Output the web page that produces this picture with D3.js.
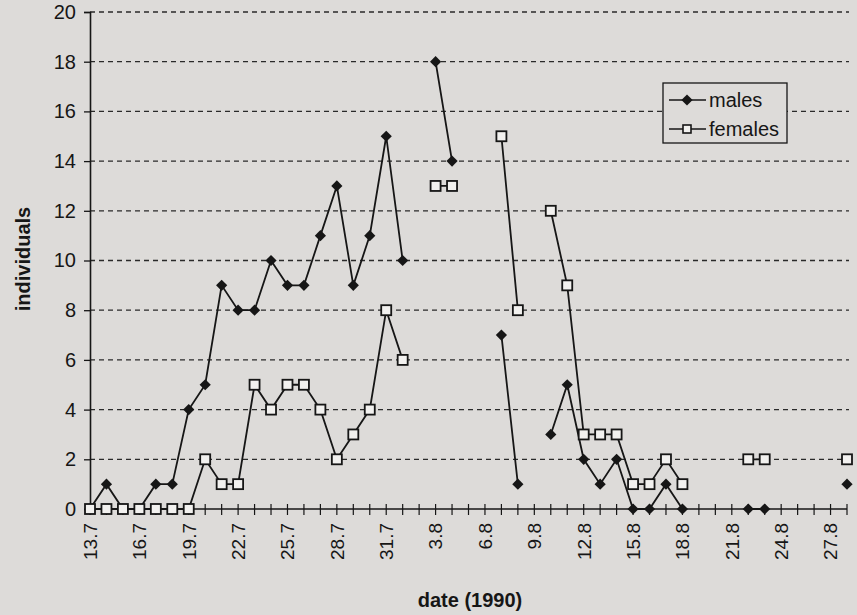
<!DOCTYPE html>
<html>
<head>
<meta charset="utf-8">
<script src="https://cdn.jsdelivr.net/npm/d3@7"></script>
<style>
  html, body { margin: 0; padding: 0; background: #dddbd9; }
  svg { display: block; font-family: "Liberation Sans", Arial, Helvetica, sans-serif; }
</style>
</head>
<body>
<svg id="chart" width="857" height="615"></svg>
<script>
// Daily counts, 13 July – 28 August 1990 (null = no survey that day)
const dates = [
  "13.7","14.7","15.7","16.7","17.7","18.7","19.7","20.7","21.7","22.7",
  "23.7","24.7","25.7","26.7","27.7","28.7","29.7","30.7","31.7",
  "1.8","2.8","3.8","4.8","5.8","6.8","7.8","8.8","9.8","10.8",
  "11.8","12.8","13.8","14.8","15.8","16.8","17.8","18.8","19.8","20.8",
  "21.8","22.8","23.8","24.8","25.8","26.8","27.8","28.8"
];
const males = [
  0,1,0,0,1,1,4,5,9,8,
  8,10,9,9,11,13,9,11,15,
  10,null,18,14,null,null,7,1,null,3,
  5,2,1,2,0,0,1,0,null,null,
  null,0,0,null,null,null,null,1
];
const females = [
  0,0,0,0,0,0,0,2,1,1,
  5,4,5,5,4,2,3,4,8,
  6,null,13,13,null,null,15,8,null,12,
  9,3,3,3,1,1,2,1,null,null,
  null,2,2,null,null,null,null,2
];
const xTickLabels = ["13.7","16.7","19.7","22.7","25.7","28.7","31.7","3.8","6.8",
                     "9.8","12.8","15.8","18.8","21.8","24.8","27.8"];
const yTicks = [0,2,4,6,8,10,12,14,16,18,20];

const ink = "#161616";
const bg = "#dddbd9";
const svg = d3.select("#chart");

const x = d3.scalePoint().domain(dates).range([90, 847]);
const y = d3.scaleLinear().domain([0, 20]).range([509, 12]);

// horizontal dashed gridlines
svg.append("g").selectAll("line")
  .data(yTicks.filter(v => v > 0))
  .join("line")
  .attr("x1", 90).attr("x2", 849)
  .attr("y1", d => y(d)).attr("y2", d => y(d))
  .attr("stroke", "#2a2a2a").attr("stroke-width", 1.3)
  .attr("stroke-dasharray", "5,4");

// y axis
const yAxis = svg.append("g")
  .attr("transform", "translate(90,0)")
  .call(d3.axisLeft(y).tickValues(yTicks).tickSize(6).tickPadding(8).tickFormat(d3.format("d")));
yAxis.select(".domain").attr("stroke", ink).attr("stroke-width", 1.6);
yAxis.selectAll(".tick line").attr("stroke", ink).attr("stroke-width", 1.3);
yAxis.selectAll(".tick text")
  .attr("fill", ink).attr("font-size", 20).attr("font-family", null);

// x axis: a crossing tick on every day, labels every third day
const xAxis = svg.append("g").attr("transform", `translate(0,${y(0)})`);
xAxis.append("line")
  .attr("x1", x(dates[0])).attr("x2", x(dates[dates.length - 1]))
  .attr("stroke", ink).attr("stroke-width", 1.6);
xAxis.selectAll("line.tick")
  .data(dates)
  .join("line")
  .attr("class", "tick")
  .attr("x1", d => x(d)).attr("x2", d => x(d))
  .attr("y1", -5).attr("y2", 6)
  .attr("stroke", ink).attr("stroke-width", 1.2);
xAxis.selectAll("text")
  .data(xTickLabels)
  .join("text")
  .attr("transform", d => `translate(${x(d)},14) rotate(-90)`)
  .attr("text-anchor", "end")
  .attr("dy", "0.36em")
  .attr("font-size", 19)
  .attr("fill", ink)
  .text(d => d);

// series lines (broken where a day has no count)
const line = d3.line()
  .defined(d => d.v !== null)
  .x(d => x(d.date))
  .y(d => y(d.v));

const maleData = dates.map((date, i) => ({ date, v: males[i] }));
const femaleData = dates.map((date, i) => ({ date, v: females[i] }));

svg.append("path").datum(maleData)
  .attr("d", line).attr("fill", "none")
  .attr("stroke", ink).attr("stroke-width", 1.8);
svg.append("path").datum(femaleData)
  .attr("d", line).attr("fill", "none")
  .attr("stroke", ink).attr("stroke-width", 1.8);

const diamond = d3.symbol().type(d3.symbolDiamond2).size(80);

svg.append("g").selectAll("path")
  .data(maleData.filter(d => d.v !== null))
  .join("path")
  .attr("transform", d => `translate(${x(d.date)},${y(d.v)})`)
  .attr("d", diamond)
  .attr("fill", ink);

svg.append("g").selectAll("rect")
  .data(femaleData.filter(d => d.v !== null))
  .join("rect")
  .attr("x", d => x(d.date) - 5).attr("y", d => y(d.v) - 5)
  .attr("width", 10).attr("height", 10)
  .attr("fill", "#f2f1ef").attr("stroke", ink).attr("stroke-width", 1.8);

// axis titles
svg.append("text")
  .attr("transform", "translate(23,259) rotate(-90)")
  .attr("text-anchor", "middle").attr("dy", "0.35em")
  .attr("font-size", 20).attr("font-weight", "bold").attr("fill", ink)
  .text("individuals");
svg.append("text")
  .attr("x", 470).attr("y", 607)
  .attr("text-anchor", "middle")
  .attr("font-size", 20).attr("font-weight", "bold").attr("fill", ink)
  .text("date (1990)");

// legend
const legend = svg.append("g");
legend.append("rect")
  .attr("x", 663).attr("y", 83).attr("width", 124).attr("height", 60)
  .attr("fill", bg).attr("stroke", ink).attr("stroke-width", 1.3);
const entries = [
  { label: "males", kind: "diamond", cy: 100 },
  { label: "females", kind: "square", cy: 129 }
];
entries.forEach(e => {
  legend.append("line")
    .attr("x1", 669).attr("x2", 706).attr("y1", e.cy).attr("y2", e.cy)
    .attr("stroke", ink).attr("stroke-width", 1.7);
  if (e.kind === "diamond") {
    legend.append("path")
      .attr("transform", `translate(687,${e.cy})`)
      .attr("d", diamond).attr("fill", ink);
  } else {
    legend.append("rect")
      .attr("x", 683).attr("y", e.cy - 4).attr("width", 8).attr("height", 8)
      .attr("fill", "#f2f1ef").attr("stroke", ink).attr("stroke-width", 1.6);
  }
  legend.append("text")
    .attr("x", 709).attr("y", e.cy).attr("dy", "0.36em")
    .attr("font-size", 20).attr("fill", ink)
    .text(e.label);
});
</script>
</body>
</html>
